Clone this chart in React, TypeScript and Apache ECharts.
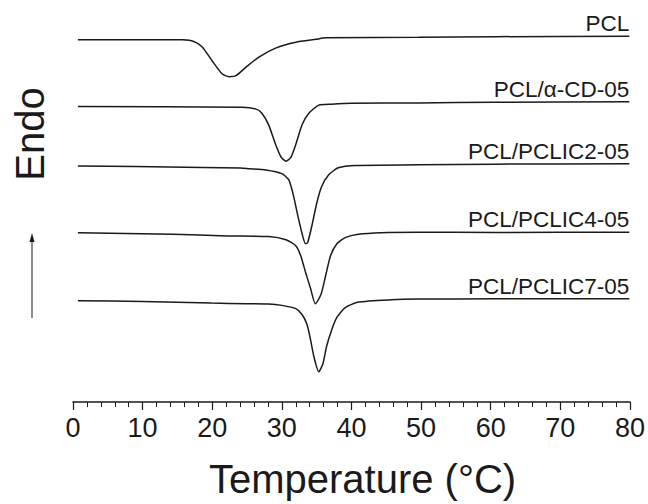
import React, { useEffect, useRef } from "react";
import * as echarts from "echarts";

const seriesNames = ["PCL", "PCL/\u03b1-CD-05", "PCL/PCLIC2-05", "PCL/PCLIC4-05", "PCL/PCLIC7-05"];

const pclT = [0.7, 13.3, 15.7, 16.7, 17.7, 18.6, 20.0, 21.4, 22.4, 23.4, 24.9, 26.7, 29.1, 32.0, 34.9, 36.3, 49.6, 60.6, 79.9];
const pclV = [36.85, 36.85, 36.85, 36.8, 36.57, 36.1, 34.7, 33.4, 33.1, 33.2, 34.1, 35.1, 36.0, 36.6, 36.9, 37.05, 37.1, 37.17, 37.2];

const cdT = [0.7, 24.3, 26.3, 27.1, 28.1, 29.1, 29.9, 30.6, 31.3, 32.0, 32.9, 33.9, 35.3, 37.1, 40.0, 49.6, 60.6, 79.9];
const cdV = [30.07, 30.0, 29.8, 29.4, 28.2, 26.2, 24.9, 24.5, 24.9, 26.2, 28.2, 29.4, 30.2, 30.3, 30.4, 30.43, 30.5, 30.55];

const ic2T = [0.7, 8.9, 18.6, 24.1, 25.3, 27.7, 30.0, 31.0, 31.7, 32.4, 33.1, 33.4, 33.7, 34.3, 35.0, 35.7, 36.7, 38.1, 40.6, 49.6, 60.6, 79.9];
const ic2V = [24.0, 23.95, 23.87, 23.8, 23.73, 23.6, 23.23, 22.6, 20.9, 18.6, 16.6, 16.1, 16.2, 17.9, 20.2, 21.9, 23.1, 23.83, 24.07, 24.13, 24.2, 24.23];

const ic4T = [0.7, 5.3, 14.3, 22.1, 28.1, 30.6, 32.0, 32.7, 33.4, 34.1, 34.8, 35.6, 36.3, 37.0, 37.9, 39.1, 41.0, 44.3, 49.6, 60.6, 79.9];
const ic4V = [17.23, 17.17, 17.07, 16.9, 16.83, 16.5, 15.9, 14.9, 13.2, 11.6, 10.0, 10.9, 12.9, 14.9, 16.1, 16.73, 17.07, 17.23, 17.27, 17.25, 17.27];

const ic7T = [0.7, 10.0, 19.9, 24.9, 28.1, 30.0, 32.0, 32.9, 33.6, 34.1, 34.6, 35.3, 35.9, 36.4, 37.1, 37.9, 39.1, 41.0, 45.7, 49.6, 60.6, 79.9];
const ic7V = [10.3, 10.23, 10.07, 10.0, 9.97, 9.83, 9.5, 8.9, 7.9, 6.4, 4.6, 3.07, 3.9, 5.6, 7.23, 8.6, 9.6, 10.17, 10.4, 10.47, 10.5, 10.5];

const xTicks = [0, 10, 20, 30, 40, 50, 60, 70, 80];

const curves = [
  [pclT, pclV],
  [cdT, cdV],
  [ic2T, ic2V],
  [ic4T, ic4V],
  [ic7T, ic7V],
];

const FONT = "Liberation Sans, Arial, sans-serif";
const INK = "#1a1a1a";

export default function App() {
  const ref = useRef<HTMLDivElement>(null);
  useEffect(() => {
    if (!ref.current) return;
    document.body.style.margin = "0";
    const chart = echarts.init(ref.current, undefined, { renderer: "svg" });
    const series = curves.map(([t, v], i) => ({
      type: "line",
      name: seriesNames[i],
      data: t.map((x, k) => [x, v[k]]),
      showSymbol: false,
      smooth: 0.2,
      lineStyle: { color: INK, width: 1.5 },
      endLabel: {
        show: true,
        formatter: seriesNames[i],
        color: INK,
        fontFamily: FONT,
        fontSize: 22.5,
        align: "right",
        verticalAlign: "bottom",
        distance: 0,
        offset: [0, -1],
      },
    }));
    chart.setOption({
      animation: false,
      grid: { left: 73, right: 15, top: 0, bottom: 95, containLabel: false },
      xAxis: {
        type: "value",
        min: xTicks[0],
        max: xTicks[xTicks.length - 1],
        interval: 10,
        splitLine: { show: false },
        axisLine: { lineStyle: { color: INK, width: 1.5 } },
        axisTick: { show: true, length: 8, lineStyle: { color: INK, width: 1.2 } },
        minorTick: { show: true, splitNumber: 5, length: 5, lineStyle: { color: INK, width: 1 } },
        axisLabel: { color: INK, fontFamily: FONT, fontSize: 27, margin: 12 },
        name: "Temperature (\u00b0C)",
        nameLocation: "middle",
        nameGap: 60,
        nameTextStyle: {
          color: INK,
          fontFamily: FONT,
          fontSize: 40,
          lineHeight: 34,
          padding: [0, 0, 0, 22],
        },
      },
      yAxis: {
        type: "value",
        min: 0,
        max: 40.9,
        show: false,
      },
      graphic: [
        {
          type: "text",
          x: 30,
          y: 134,
          rotation: Math.PI / 2,
          style: {
            text: "Endo",
            fontFamily: FONT,
            fontSize: 40,
            fill: INK,
            align: "center",
            verticalAlign: "middle",
          },
        },
        {
          type: "line",
          shape: { x1: 32, y1: 318, x2: 32, y2: 240 },
          style: { stroke: INK, lineWidth: 1 },
        },
        {
          type: "polygon",
          shape: { points: [[32, 233], [29.5, 242], [34.5, 242]] },
          style: { fill: INK },
        },
      ],
      series,
    });
    return () => chart.dispose();
  }, []);
  return <div ref={ref} style={{ width: 648, height: 504 }} />;
}
